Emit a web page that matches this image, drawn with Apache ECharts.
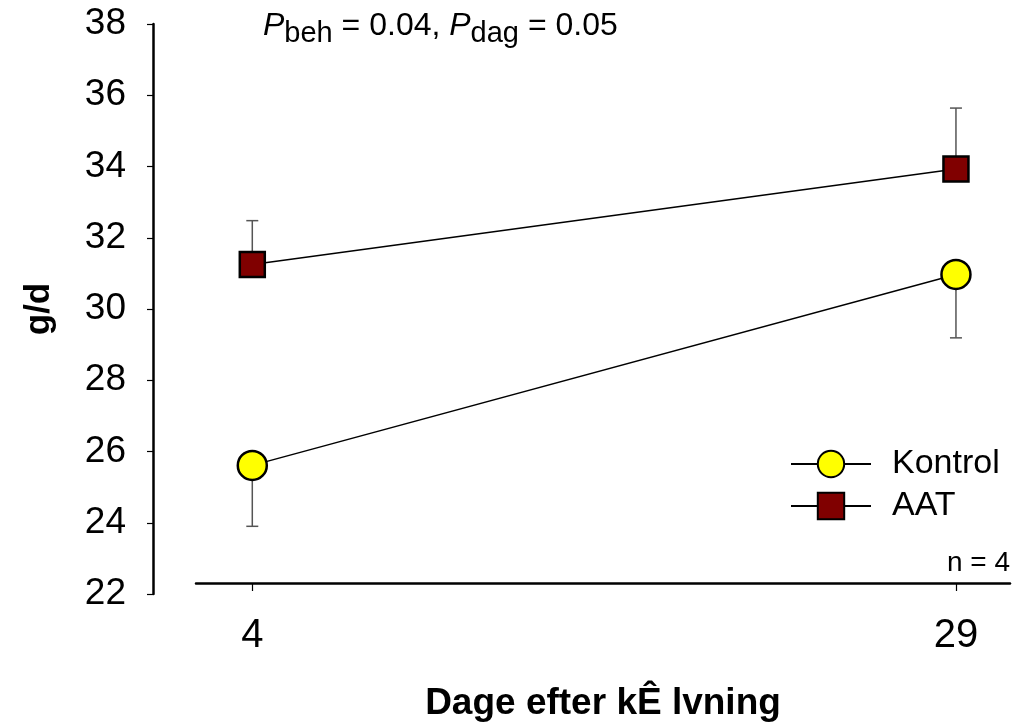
<!DOCTYPE html>
<html>
<head>
<meta charset="utf-8">
<script src="https://cdn.jsdelivr.net/npm/echarts@6/dist/echarts.min.js"></script>
<style>html,body{margin:0;padding:0;background:#fff}#c{width:1016px;height:724px}</style>
</head>
<body>
<div id="c"></div>
<script>
// Data
const days = [4, 29];
const dayLabels = ['4', '29'];
const kontrol = [25.61, 30.97];
const kontrolLower = [23.9, 29.19];
const aat = [31.25, 33.93];
const aatUpper = [32.48, 35.64];
const yTicks = [22, 24, 26, 28, 30, 32, 34, 36, 38];

const FONT = '"Liberation Sans", Arial, sans-serif';

const errData = [];
days.forEach((d, i) => {
  errData.push([d, kontrol[i], kontrolLower[i]]);
  errData.push([d, aat[i], aatUpper[i]]);
});

const chart = echarts.init(document.getElementById('c'));
chart.setOption({
  animation: false,
  backgroundColor: '#fff',
  grid: { left: 196, right: 6, top: 24, bottom: 130, outerBoundsMode: 'none', containLabel: false },
  xAxis: {
    type: 'value', min: 2, max: 30.92, offset: -11,
    axisLine: { show: true, lineStyle: { color: '#000', width: 2.5 } },
    axisTick: { show: true, customValues: days, length: 8, lineStyle: { color: '#000', width: 1.2 } },
    axisLabel: { customValues: days, margin: 33, fontSize: 40, color: '#000', fontFamily: FONT,
      formatter: v => dayLabels[days.indexOf(v)] },
    splitLine: { show: false },
    name: 'Dage efter kÊ lvning', nameLocation: 'middle', nameGap: 102,
    nameTextStyle: { fontSize: 37, fontWeight: 'bold', color: '#000', fontFamily: FONT }
  },
  yAxis: {
    type: 'value', min: yTicks[0], max: yTicks[yTicks.length - 1], interval: 2, offset: 43,
    axisLine: { show: true, lineStyle: { color: '#000', width: 2.5 } },
    axisTick: { show: true, length: 6, lineStyle: { color: '#000', width: 1.2 } },
    axisLabel: { margin: 27, fontSize: 37, color: '#000', fontFamily: FONT },
    splitLine: { show: false },
    name: 'g/d', nameLocation: 'middle', nameGap: 96, nameRotate: 90,
    nameTextStyle: { fontSize: 35, fontWeight: 'bold', color: '#000', fontFamily: FONT }
  },
  legend: {
    left: 790, top: 447, orient: 'vertical', itemWidth: 80, itemHeight: 33, itemGap: 8, padding: 0,
    data: ['Kontrol', 'AAT'],
    textStyle: { fontSize: 34, color: '#000', fontFamily: FONT, padding: [0, 0, 0, 16] }
  },
  graphic: [
    {
      type: 'text', left: 263, top: 10,
      style: {
        text: '{p|P}{s|beh}{n| = 0.04, }{p|P}{s|dag}{n| = 0.05}',
        rich: {
          p: { fontSize: 32, fontStyle: 'italic', fontFamily: FONT, fill: '#000', lineHeight: 44, verticalAlign: 'middle' },
          n: { fontSize: 32, fontFamily: FONT, fill: '#000', lineHeight: 44, verticalAlign: 'middle' },
          s: { fontSize: 29, fontFamily: FONT, fill: '#000', lineHeight: 22, verticalAlign: 'bottom' }
        }
      }
    },
    {
      type: 'text', right: 6, top: 549,
      style: { text: 'n = 4', fontSize: 28, fontFamily: FONT, fill: '#000' }
    }
  ],
  series: [
    {
      type: 'custom', z: 1, silent: true,
      data: errData,
      renderItem: (params, api) => {
        const x = api.value(0);
        const p0 = api.coord([x, api.value(1)]);
        const p1 = api.coord([x, api.value(2)]);
        const st = { stroke: '#555', lineWidth: 1.5 };
        return {
          type: 'group',
          children: [
            { type: 'line', shape: { x1: p0[0], y1: p0[1], x2: p1[0], y2: p1[1] }, style: st },
            { type: 'line', shape: { x1: p1[0] - 6, y1: p1[1], x2: p1[0] + 6, y2: p1[1] }, style: st }
          ]
        };
      }
    },
    {
      name: 'Kontrol', type: 'line', z: 3,
      data: days.map((d, i) => [d, kontrol[i]]),
      symbol: 'circle', symbolSize: 29,
      lineStyle: { color: '#000', width: 1.5 },
      itemStyle: { color: '#FFFF00', borderColor: '#000', borderWidth: 2.5 }
    },
    {
      name: 'AAT', type: 'line', z: 3,
      data: days.map((d, i) => [d, aat[i]]),
      symbol: 'rect', symbolSize: 25,
      lineStyle: { color: '#000', width: 1.5 },
      itemStyle: { color: '#800000', borderColor: '#000', borderWidth: 2.5 }
    }
  ]
});
</script>
</body>
</html>
